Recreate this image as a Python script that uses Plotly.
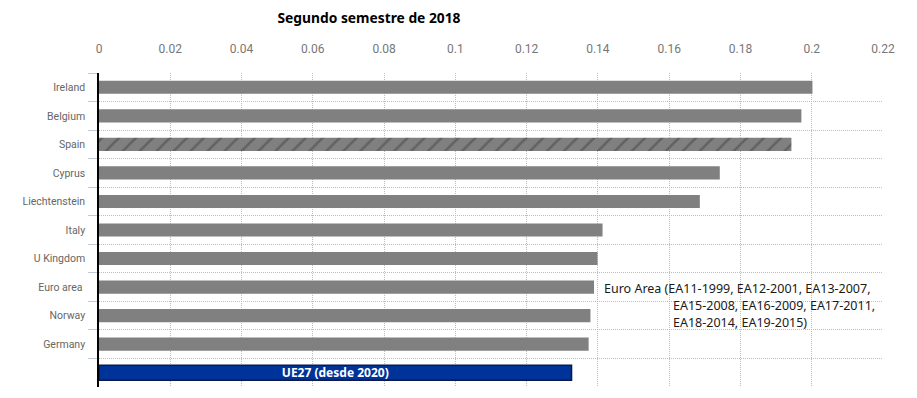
import plotly.graph_objects as go

countries = ["Ireland", "Belgium", "Spain", "Cyprus", "Liechtenstein", "Italy",
             "U Kingdom", "Euro area ", "Norway", "Germany", " "]
values = [0.2002, 0.1971, 0.1943, 0.1742, 0.1686, 0.1413,
          0.1399, 0.1389, 0.1379, 0.1374, 0.1326]
bar_labels = ["", "", "", "", "", "", "", "", "", "", "UE27 (desde 2020)"]
x_ticks = [0, 0.02, 0.04, 0.06, 0.08, 0.1, 0.12, 0.14, 0.16, 0.18, 0.2, 0.22]
x_ticktext = ["0", "0.02", "0.04", "0.06", "0.08", "0.1", "0.12", "0.14",
              "0.16", "0.18", "0.2", "0.22"]
title_text = "Segundo semestre de 2018"
note_lines = ["Euro Area (EA11-1999, EA12-2001, EA13-2007,",
              "EA15-2008, EA16-2009, EA17-2011,",
              "EA18-2014, EA19-2015)"]

GRAY = "#808080"
BLUE = "#003399"

colors = [BLUE if c == " " else GRAY for c in countries]
shapes = ["/" if c == "Spain" else "" for c in countries]
line_w = [1.5 if c == " " else 0 for c in countries]
widths = [0.52 if c == " " else 0.46 for c in countries]

# The page body has an 8px margin, so the figure is offset by 8px.
OFF = 8
W, H = 917 - OFF, 398 - OFF
PLOT_TOP, PLOT_BOTTOM = 73, 387

fig = go.Figure()
fig.add_trace(go.Bar(
    y=countries, x=values, orientation="h",
    width=widths,
    marker=dict(
        color=colors,
        line=dict(width=line_w, color="#0a1a4a"),
        pattern=dict(shape=shapes, fgcolor="#0d3170",
                     size=12, solidity=0.22, fillmode="overlay"),
    ),
    text=bar_labels, textposition="inside", insidetextanchor="middle",
    textangle=0, constraintext="none",
    textfont=dict(color="white", family="Noto Sans", size=12, weight="bold"),
    hoverinfo="skip",
))

fig.update_layout(
    width=W, height=H,
    margin=dict(l=99 - OFF, r=(917 - 883), t=PLOT_TOP - OFF, b=398 - PLOT_BOTTOM),
    paper_bgcolor="white", plot_bgcolor="white",
    showlegend=False,
    title=dict(text="<b>" + title_text + "</b>", x=(369 - OFF) / W, xref="container",
               xanchor="center", y=1 - (18 - OFF) / H, yref="container",
               yanchor="middle",
               font=dict(family="Noto Sans", size=13.8, color="black")),
    font=dict(family="Roboto", color="#666666"),
)
fig.update_xaxes(
    side="top", range=[0, 0.22], tickvals=x_ticks, ticktext=x_ticktext,
    showgrid=True, gridcolor="#bdbdbd", griddash="1px,1px", gridwidth=1,
    zeroline=False, showline=False, automargin=False,
    ticks="outside", ticklen=14, tickcolor="rgba(0,0,0,0)",
    tickfont=dict(family="Roboto", size=12, color="#777777"),
)
fig.update_yaxes(
    type="category", autorange="reversed", tickson="boundaries",
    showgrid=True, gridcolor="#bdbdbd", griddash="1px,1px", gridwidth=1,
    ticks="outside", ticklen=9, tickcolor="#c0cad8", tickwidth=1,
    ticklabelstandoff=10,
    showline=True, linecolor="black", linewidth=1.5, automargin=False,
    tickfont=dict(family="Roboto", size=10.5, color="#666666"),
)

note_x = [0.1411, 0.1604, 0.1604]
note_y = [288, 305, 322]
plot_h = PLOT_BOTTOM - PLOT_TOP
for t, xx, yy in zip(note_lines, note_x, note_y):
    fig.add_annotation(text=t, x=xx, xref="x", y=1 - (yy - PLOT_TOP) / plot_h,
                       yref="paper", xanchor="left", yanchor="middle",
                       showarrow=False,
                       font=dict(family="Noto Sans", size=12.5, color="#1a1a1a"))

fig.write_html("out.html")
